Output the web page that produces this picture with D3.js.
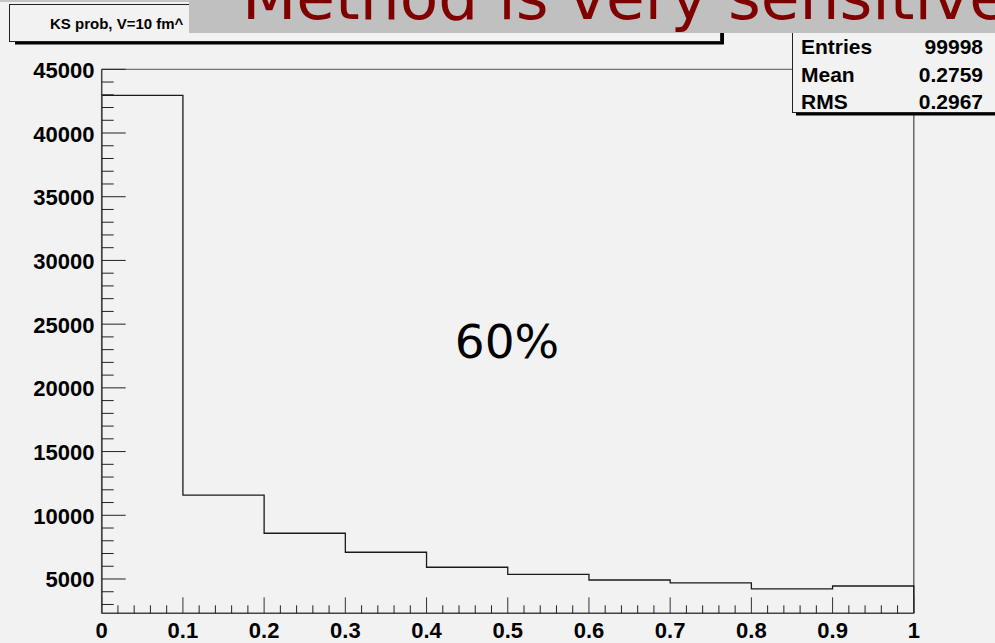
<!DOCTYPE html>
<html>
<head>
<meta charset="utf-8">
<script src="https://cdn.jsdelivr.net/npm/d3@7"></script>
<style>
  html, body { margin: 0; padding: 0; background: #f2f2f2; }
  svg { display: block; }
</style>
</head>
<body>
<script>
// ---- data ----
const binStarts = [0, 0.1, 0.2, 0.3, 0.4, 0.5, 0.6, 0.7, 0.8, 0.9];
const binWidth = 0.1;
const counts = [42960, 11590, 8590, 7100, 5920, 5370, 4920, 4690, 4220, 4450];
const xTickValues = [0, 0.1, 0.2, 0.3, 0.4, 0.5, 0.6, 0.7, 0.8, 0.9, 1];
const xTickLabels = ["0", "0.1", "0.2", "0.3", "0.4", "0.5", "0.6", "0.7", "0.8", "0.9", "1"];
const yTickValues = [5000, 10000, 15000, 20000, 25000, 30000, 35000, 40000, 45000];
const yTickLabels = ["5000", "10000", "15000", "20000", "25000", "30000", "35000", "40000", "45000"];
const statNames = ["Entries", "Mean", "RMS"];
const statValues = ["99998", "0.2759", "0.2967"];
const histTitle = "KS prob, V=10 fm^";
const banner = "Method is very sensitive";
const annotation = "60%";
const yMin = 2308, yMax = 45000;

// ---- layout ----
const W = 995, H = 643;
const svg = d3.select("body").append("svg").attr("width", W).attr("height", H);
svg.append("rect").attr("width", W).attr("height", H).attr("fill", "#f2f2f2");

const x = d3.scaleLinear().domain([0, 1]).range([101.7, 913.8]);
const y = d3.scaleLinear().domain([yMin, yMax]).range([613.3, 69.3]);

const labelFont = "'Liberation Sans', Arial, Helvetica, sans-serif";

// top strip
svg.append("rect").attr("x", 0).attr("y", 0).attr("width", W).attr("height", 2).attr("fill", "#c4c4c4");

// frame top & right
svg.append("line").attr("x1", x(0)).attr("x2", x(1)).attr("y1", y(yMax)).attr("y2", y(yMax))
  .attr("stroke", "#555").attr("stroke-width", 1);
svg.append("line").attr("x1", x(1)).attr("x2", x(1)).attr("y1", y(yMax)).attr("y2", y(yMin))
  .attr("stroke", "#555").attr("stroke-width", 1.3);

// histogram step line
const pts = [[0, yMin]];
binStarts.forEach((b, i) => { pts.push([b, counts[i]]); pts.push([b + binWidth, counts[i]]); });
pts.push([1, yMin]);
svg.append("path")
  .attr("d", d3.line().x(d => x(d[0])).y(d => y(d[1]))(pts))
  .attr("fill", "none").attr("stroke", "#1a1a1a").attr("stroke-width", 1.3);

// x axis
const xAxisG = svg.append("g");
xAxisG.append("line").attr("x1", x(0)).attr("x2", x(1)).attr("y1", y(yMin)).attr("y2", y(yMin))
  .attr("stroke", "#444").attr("stroke-width", 1.5);
const xMinor = d3.range(0, 50).map(i => i * 0.02).filter((v, i) => i % 5 !== 0);
xAxisG.selectAll(".xminor").data(xMinor).join("line")
  .attr("x1", d => x(d)).attr("x2", d => x(d)).attr("y1", y(yMin)).attr("y2", y(yMin) - 8)
  .attr("stroke", "#222").attr("stroke-width", 1);
xAxisG.selectAll(".xmajor").data(xTickValues).join("line")
  .attr("x1", d => x(d)).attr("x2", d => x(d)).attr("y1", y(yMin)).attr("y2", y(yMin) - 16)
  .attr("stroke", "#333").attr("stroke-width", 1);
xAxisG.selectAll(".xlab").data(xTickValues).join("text")
  .attr("x", d => x(d)).attr("y", 637.5)
  .attr("text-anchor", "middle")
  .attr("font-family", labelFont).attr("font-weight", "bold").attr("font-size", 22)
  .attr("fill", "#000")
  .text((d, i) => xTickLabels[i]);

// y axis
const yAxisG = svg.append("g");
yAxisG.append("line").attr("x1", x(0)).attr("x2", x(0)).attr("y1", y(yMin)).attr("y2", y(yMax))
  .attr("stroke", "#444").attr("stroke-width", 1.5);
const yMinor = d3.range(3000, 45000, 1000).filter(v => v % 5000 !== 0);
yAxisG.selectAll(".yminor").data(yMinor).join("line")
  .attr("x1", x(0)).attr("x2", x(0) + 12).attr("y1", d => y(d)).attr("y2", d => y(d))
  .attr("stroke", "#222").attr("stroke-width", 1);
yAxisG.selectAll(".ymajor").data(yTickValues).join("line")
  .attr("x1", x(0)).attr("x2", x(0) + 24).attr("y1", d => y(d)).attr("y2", d => y(d))
  .attr("stroke", "#222").attr("stroke-width", 1);
yAxisG.selectAll(".ylab").data(yTickValues).join("text")
  .attr("x", 94.5).attr("y", d => y(d) + 8.5)
  .attr("text-anchor", "end")
  .attr("font-family", labelFont).attr("font-weight", "bold").attr("font-size", 22)
  .attr("fill", "#000")
  .text((d, i) => yTickLabels[i]);

// annotation
svg.append("text").attr("x", 507).attr("y", 357.5).attr("text-anchor", "middle")
  .attr("font-family", "'DejaVu Sans', sans-serif").attr("font-size", 47).attr("fill", "#000")
  .text(annotation);

// title box
svg.append("rect").attr("x", 15).attr("y", 41.5).attr("width", 709).attr("height", 3).attr("fill", "#000");
svg.append("rect").attr("x", 721).attr("y", 9).attr("width", 3).attr("height", 35).attr("fill", "#000");
svg.append("rect").attr("x", 9.5).attr("y", 4.5).attr("width", 711).attr("height", 37)
  .attr("fill", "#f2f2f2").attr("stroke", "#222").attr("stroke-width", 1);
svg.append("text").attr("x", 50).attr("y", 29).attr("font-family", labelFont)
  .attr("font-weight", "bold").attr("font-size", 15).attr("fill", "#000").text(histTitle);

// stats box
svg.append("rect").attr("x", 796).attr("y", 112).attr("width", 210).attr("height", 3.5).attr("fill", "#000");
svg.append("rect").attr("x", 792.5).attr("y", 28).attr("width", 220).attr("height", 84.5)
  .attr("fill", "#f2f2f2").attr("stroke", "#222").attr("stroke-width", 1);
const statBase = [54, 81.5, 108.5];
svg.selectAll(".sname").data(statNames).join("text")
  .attr("x", 801).attr("y", (d, i) => statBase[i])
  .attr("font-family", labelFont).attr("font-weight", "bold").attr("font-size", 21)
  .attr("fill", "#000").text(d => d);
svg.selectAll(".sval").data(statValues).join("text")
  .attr("x", 983).attr("y", (d, i) => statBase[i]).attr("text-anchor", "end")
  .attr("font-family", labelFont).attr("font-weight", "bold").attr("font-size", 21)
  .attr("fill", "#000").text(d => d);

// banner
svg.append("rect").attr("x", 189).attr("y", 0).attr("width", W - 189).attr("height", 33).attr("fill", "#c0c0c0");
svg.append("text").attr("x", 242).attr("y", 19).attr("font-family", "'DejaVu Sans', sans-serif")
  .attr("font-size", 63).attr("fill", "#800000").text(banner);
</script>
</body>
</html>
